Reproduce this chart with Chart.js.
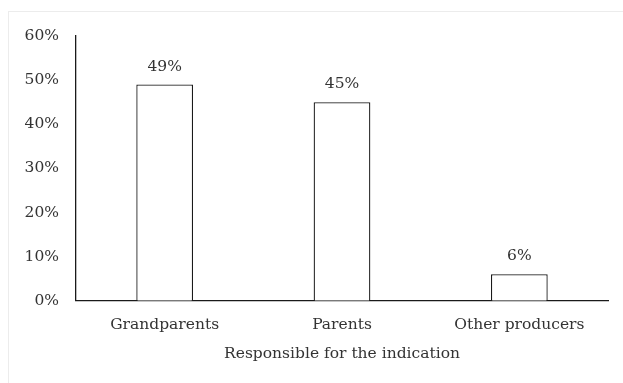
<!DOCTYPE html>
<html>
<head>
<meta charset="utf-8">
<script src="https://cdn.jsdelivr.net/npm/chart.js@4/dist/chart.umd.min.js"></script>
<style>
  html, body { margin: 0; padding: 0; background: #ffffff; }
  #wrap { width: 623px; height: 383px; position: relative; }
</style>
</head>
<body>
<div id="wrap"><canvas id="chart" width="623" height="383"></canvas></div>
<script>
// Who recommended the product
const categories = ['Grandparents', 'Parents', 'Other producers'];
const shares = [49, 45, 6];
const yTicks = [0, 10, 20, 30, 40, 50, 60];
const xAxisTitle = 'Responsible for the indication';

const textColor = '#333333';
const fontFamily = "'DejaVu Serif', 'Liberation Serif', serif";
const fontSize = 15.5;

// Light frame around the chart area and background
const framePlugin = {
  id: 'frame',
  beforeDraw(chart) {
    const ctx = chart.ctx;
    ctx.save();
    ctx.fillStyle = '#ffffff';
    ctx.fillRect(0, 0, chart.width, chart.height);
    ctx.strokeStyle = '#ececec';
    ctx.lineWidth = 1;
    ctx.strokeRect(8.5, 11.5, chart.width + 10, chart.height + 10);
    ctx.restore();
  }
};

// Percentage labels above each bar
const valueLabels = {
  id: 'valueLabels',
  afterDatasetsDraw(chart) {
    const ctx = chart.ctx;
    const meta = chart.getDatasetMeta(0);
    ctx.save();
    ctx.fillStyle = textColor;
    ctx.font = fontSize + 'px ' + fontFamily;
    ctx.textAlign = 'center';
    ctx.textBaseline = 'middle';
    meta.data.forEach((bar, i) => {
      ctx.fillText(shares[i] + '%', bar.x, bar.y - 18);
    });
    ctx.restore();
  }
};

new Chart(document.getElementById('chart'), {
  type: 'bar',
  data: {
    labels: categories,
    datasets: [{
      data: shares,
      backgroundColor: '#ffffff',
      borderColor: '#1a1a1a',
      borderWidth: 1.3,
      barPercentage: 0.32,
      categoryPercentage: 1.0
    }]
  },
  options: {
    responsive: false,
    animation: false,
    devicePixelRatio: 1,
    layout: { padding: { top: 36, right: 15, bottom: 20, left: 0 } },
    plugins: {
      legend: { display: false },
      tooltip: { enabled: false }
    },
    scales: {
      x: {
        grid: { display: false, drawTicks: false },
        border: { display: true, color: '#1a1a1a', width: 1.3 },
        ticks: {
          color: textColor,
          font: { family: fontFamily, size: fontSize },
          padding: 15,
          maxRotation: 0
        },
        title: {
          display: true,
          text: xAxisTitle,
          color: textColor,
          font: { family: fontFamily, size: fontSize },
          padding: { top: -5, bottom: 0 }
        }
      },
      y: {
        min: 0,
        max: 60,
        afterBuildTicks(scale) {
          scale.ticks = yTicks.map(v => ({ value: v }));
        },
        afterFit(scale) { scale.width = 76; },
        grid: { display: false, drawTicks: false },
        border: { display: true, color: '#1a1a1a', width: 1.3 },
        ticks: {
          color: textColor,
          font: { family: fontFamily, size: fontSize },
          padding: 17,
          callback: v => v + '%'
        }
      }
    }
  },
  plugins: [framePlugin, valueLabels]
});
</script>
</body>
</html>
